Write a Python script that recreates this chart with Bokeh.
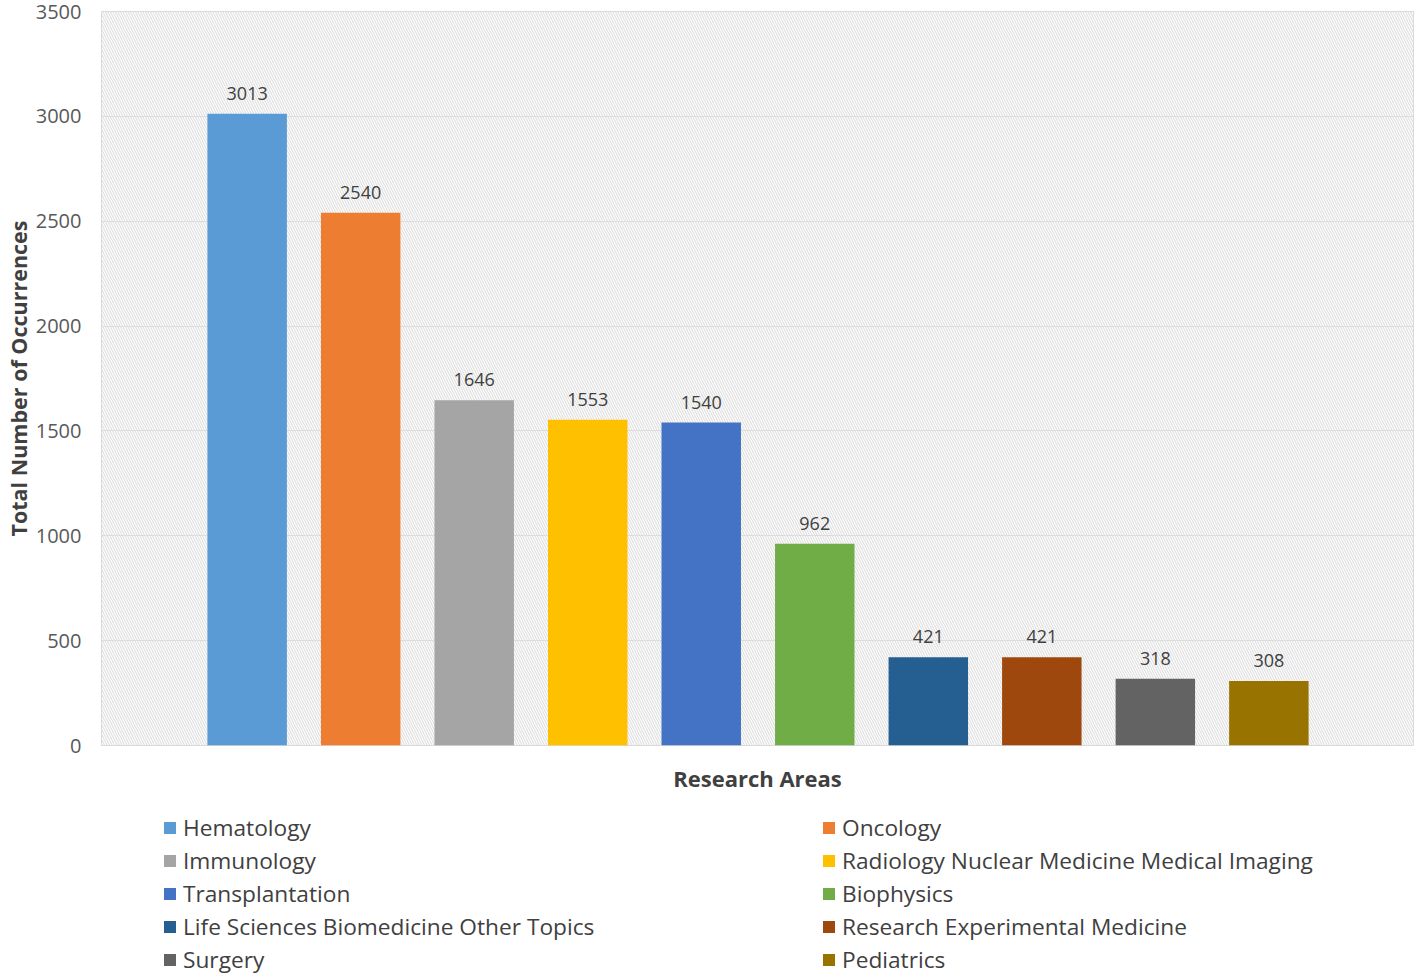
from bokeh.plotting import figure
from bokeh.layouts import column
from bokeh.models import (ColumnDataSource, Range1d, FixedTicker, BoxAnnotation,
                          Legend, LegendItem, LabelSet)
from bokeh.core.properties import value
from bokeh.embed import file_html
from bokeh.resources import INLINE

categories = ["Hematology", "Oncology", "Immunology",
              "Radiology Nuclear Medicine Medical Imaging", "Transplantation",
              "Biophysics", "Life Sciences Biomedicine Other Topics",
              "Research Experimental Medicine", "Surgery", "Pediatrics"]
values = [3013, 2540, 1646, 1553, 1540, 962, 421, 421, 318, 308]
colors = ["#5B9BD5", "#ED7D31", "#A5A5A5", "#FFC000", "#4472C4",
          "#70AD47", "#255E91", "#9E480E", "#636363", "#997300"]
y_ticks = [0, 500, 1000, 1500, 2000, 2500, 3000, 3500]

FONT = "Open Sans"
positions = list(range(1, len(categories) + 1))

p = figure(width=1417, height=800, output_backend="svg",
           toolbar_location=None,
           x_range=Range1d(-0.283, 11.274), y_range=Range1d(0, 3500),
           min_border_left=98, min_border_right=4, min_border_top=11,
           min_border_bottom=55)

p.background_fill_color = "white"
p.border_fill_color = "white"
p.outline_line_color = "#d9d9d9"
p.outline_line_width = 1

# hatched plot-area background
bg = BoxAnnotation(fill_alpha=0, line_alpha=0, hatch_pattern="\\",
                   hatch_color="#e0e0e0", hatch_scale=5, hatch_weight=1.2,
                   level="underlay")
p.add_layout(bg)

p.xgrid.visible = False
p.ygrid.grid_line_color = "#d9d9d9"
p.ygrid.grid_line_width = 1
p.yaxis.ticker = FixedTicker(ticks=y_ticks)

# axes styling
p.yaxis.axis_line_color = None
p.yaxis.major_tick_line_color = None
p.yaxis.minor_tick_line_color = None
p.yaxis.major_label_text_font = FONT
p.yaxis.major_label_text_font_size = "20px"
p.yaxis.major_label_text_color = "#595959"
p.yaxis.major_label_standoff = 14
p.yaxis.axis_label = "Total Number of Occurrences"
p.yaxis.axis_label_text_font = FONT
p.yaxis.axis_label_text_font_style = "bold"
p.yaxis.axis_label_text_font_size = "21.5px"
p.yaxis.axis_label_text_color = "#404040"
p.yaxis.axis_label_standoff = 0

p.xaxis.ticker = FixedTicker(ticks=[])
p.xaxis.axis_line_color = None
p.xaxis.major_tick_line_color = None
p.xaxis.minor_tick_line_color = None
p.xaxis.axis_label = "Research Areas"
p.xaxis.axis_label_text_font = FONT
p.xaxis.axis_label_text_font_style = "bold"
p.xaxis.axis_label_text_font_size = "22px"
p.xaxis.axis_label_text_color = "#404040"
p.xaxis.axis_label_standoff = 17

for i, (cat, val, col) in enumerate(zip(categories, values, colors)):
    src = ColumnDataSource(dict(x=[positions[i]], top=[val]))
    p.vbar(x="x", top="top", width=0.70, source=src, fill_color=col,
           line_color=None)

label_src = ColumnDataSource(dict(x=positions, y=values, text=[str(v) for v in values]))
labels = LabelSet(x="x", y="y", text="text", source=label_src,
                  text_align="center", text_baseline="bottom", y_offset=14,
                  text_font=value(FONT), text_font_size="18px",
                  text_color="#404040")
p.add_layout(labels)

# legend panel below the chart (its bars lie outside its own view)
lg = figure(width=1417, height=175, output_backend="svg", toolbar_location=None,
            x_range=Range1d(0, 1), y_range=Range1d(5000, 5001),
            x_axis_location=None, y_axis_location=None,
            min_border_left=98, min_border_right=4, min_border_top=0,
            min_border_bottom=0)
lg.outline_line_color = None
lg.xgrid.visible = False
lg.ygrid.visible = False
lg.background_fill_color = "white"
lg.border_fill_color = "white"

items = []
for i, (cat, col) in enumerate(zip(categories, colors)):
    src = ColumnDataSource(dict(x=[positions[i]], top=[values[i]]))
    r = lg.vbar(x="x", top="top", width=0.7, source=src, fill_color=col,
                line_color=None)
    items.append(LegendItem(label=cat, renderers=[r]))

legend = Legend(items=items, location=(61, 0), orientation="horizontal",
                ncols=2, padding=0, margin=0, spacing=2,
                border_line_alpha=0, background_fill_alpha=0,
                glyph_width=15, glyph_height=15, label_standoff=6,
                label_height=24, label_width=636,
                label_text_font=FONT, label_text_font_size="22.7px",
                label_text_color="#404040")
lg.add_layout(legend)

layout = column(p, lg, spacing=0)
open("out.html", "w").write(file_html(layout, INLINE))
